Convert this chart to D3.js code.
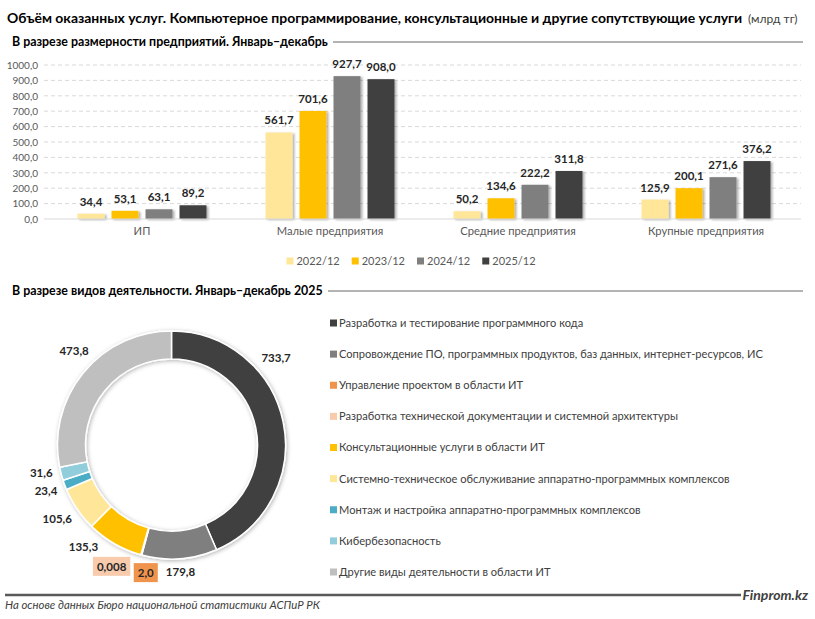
<!DOCTYPE html>
<html><head><meta charset="utf-8">
<script src="https://cdn.jsdelivr.net/npm/d3@7/dist/d3.min.js"></script>
<style>
html,body{margin:0;padding:0;background:#fff;}
svg{display:block;}
.body{font-family:Lato,"Open Sans",sans-serif;}
</style></head>
<body>
<svg id="chart" width="815" height="619"></svg>
<script>
// ---------- DATA ----------
const categories = ["ИП", "Малые предприятия", "Средние предприятия", "Крупные предприятия"];
const seriesNames = ["2022/12", "2023/12", "2024/12", "2025/12"];
const values2022 = [34.4, 561.7, 50.2, 125.9];
const values2023 = [53.1, 701.6, 134.6, 200.1];
const values2024 = [63.1, 927.7, 222.2, 271.6];
const values2025 = [89.2, 908.0, 311.8, 376.2];
const yTicks = [0, 100, 200, 300, 400, 500, 600, 700, 800, 900, 1000];

const activities = [
  "Разработка и тестирование программного кода",
  "Сопровождение ПО, программных продуктов, баз данных, интернет-ресурсов, ИС",
  "Управление проектом в области ИТ",
  "Разработка технической документации и системной архитектуры",
  "Консультационные услуги в области ИТ",
  "Системно-техническое обслуживание аппаратно-программных комплексов",
  "Монтаж и настройка аппаратно-программных комплексов",
  "Кибербезопасность",
  "Другие виды деятельности в области ИТ"
];
const activityValues = [733.7, 179.8, 2.0, 0.008, 135.3, 105.6, 23.4, 31.6, 473.8];

// ---------- STYLE ----------
const seriesColors = ["#FFE699", "#FFC000", "#7F7F7F", "#404040"];
const activityColors = ["#404040", "#7F7F7F", "#F0934C", "#F8CBAD", "#FFC000", "#FFE699", "#4BACC6", "#92CDDC", "#BFBFBF"];
const boxedLabels = [false, false, true, true, false, false, false, false, false];
// angular nudges (degrees) for donut labels, mimicking the original label placement
const labelNudge = [-28, 0, -4, 10.6, 10.8, 1.2, 0.5, 2.4, 4.6];

const fmt1 = d3.format(".1f");
const fmtNum = v => (v < 0.1 ? d3.format(".3f")(v) : fmt1(v)).replace(".", ",");

const svg = d3.select("#chart");
const defs = svg.append("defs");
const sh = defs.append("filter").attr("id", "shadow").attr("x", "-20%").attr("y", "-20%").attr("width", "150%").attr("height", "150%");
sh.append("feDropShadow").attr("dx", 2).attr("dy", 1).attr("stdDeviation", 1.3).attr("flood-color", "#000").attr("flood-opacity", 0.3);
const sh2 = defs.append("filter").attr("id", "dshadow").attr("x", "-20%").attr("y", "-20%").attr("width", "140%").attr("height", "140%");
sh2.append("feDropShadow").attr("dx", 1).attr("dy", 1).attr("stdDeviation", 2).attr("flood-color", "#000").attr("flood-opacity", 0.3);

// ---------- TITLE ----------
// fit a text element to a target width by adjusting its font-size
function fitWidth(sel, target) {
  const fs = +sel.attr("font-size");
  const w = sel.node().getComputedTextLength();
  sel.attr("font-size", (fs * target / w).toFixed(2));
}
const t1 = svg.append("text").attr("class", "body").attr("x", 7).attr("y", 23)
  .attr("font-size", 14).attr("font-weight", "bold").attr("fill", "#000")
  .text("Объём оказанных услуг. Компьютерное программирование, консультационные и другие сопутствующие услуги");
fitWidth(t1, 736);
svg.append("text").attr("class", "body").attr("x", 748).attr("y", 23)
  .attr("font-size", 12).attr("fill", "#404040").text("(млрд тг)");

function sectionHeader(txt, y, w) {
  const t = svg.append("text").attr("class", "body").attr("x", 12).attr("y", y)
    .attr("font-size", 12).attr("font-weight", "bold").attr("fill", "#000").text(txt);
  fitWidth(t, w);
  svg.append("line").attr("x1", 12 + w + 5).attr("x2", 803).attr("y1", y - 4).attr("y2", y - 4)
    .attr("stroke", "#404040").attr("stroke-width", 0.8);
}
sectionHeader("В разрезе размерности предприятий. Январь–декабрь", 46, 316);
sectionHeader("В разрезе видов деятельности. Январь–декабрь 2025", 295, 311);

// ---------- BAR CHART ----------
const x0 = d3.scaleBand().domain(categories).range([48, 800]).padding(0);
const x1 = d3.scaleBand().domain(seriesNames).range([-68, 68]).paddingInner(0.206).paddingOuter(0.103);
const y = d3.scaleLinear().domain([0, 1000]).range([219, 65]);
const allSeries = [values2022, values2023, values2024, values2025];

const grid = svg.append("g");
grid.selectAll("line").data(yTicks.filter(d => d > 0)).join("line")
  .attr("x1", 44).attr("x2", 801).attr("y1", d => y(d)).attr("y2", d => y(d))
  .attr("stroke", "#D9D9D9").attr("stroke-width", 1).attr("stroke-dasharray", "4,3");

const yAxis = d3.axisLeft(y).tickValues(yTicks).tickSize(0).tickPadding(0).tickFormat(d => fmt1(d).replace(".", ","));
const ya = svg.append("g").attr("transform", "translate(38,0)").call(yAxis);
ya.select(".domain").remove();
ya.selectAll("text").attr("class", "body").attr("font-size", 10).attr("fill", "#595959");

const barsG = svg.append("g");
seriesNames.forEach((s, si) => {
  const vals = allSeries[si];
  barsG.append("g").attr("filter", "url(#shadow)").selectAll("rect").data(vals).join("rect")
    .attr("x", (d, i) => x0(categories[i]) + x0.bandwidth() / 2 + x1(s))
    .attr("y", d => y(d))
    .attr("width", x1.bandwidth())
    .attr("height", d => y(0) - y(d))
    .attr("fill", seriesColors[si]);
  barsG.append("g").selectAll("text").data(vals).join("text")
    .attr("class", "body")
    .attr("x", (d, i) => x0(categories[i]) + x0.bandwidth() / 2 + x1(s) + x1.bandwidth() / 2)
    .attr("y", d => y(d) - 8)
    .attr("text-anchor", "middle").attr("font-size", 11.5).attr("font-weight", "bold").attr("fill", "#262626")
    .text(d => fmtNum(d));
});
svg.append("line").attr("x1", 44).attr("x2", 801).attr("y1", y(0)).attr("y2", y(0))
  .attr("stroke", "#D9D9D9").attr("stroke-width", 1);

const xAxis = d3.axisBottom(x0).tickSize(0).tickPadding(0);
const xa = svg.append("g").attr("transform", `translate(0,${y(0) + 8})`).call(xAxis);
xa.select(".domain").remove();
xa.selectAll("text").attr("class", "body").attr("font-size", 11.2).attr("fill", "#595959").attr("dy", "0.71em");

// bar legend
const leg = svg.append("g").attr("class", "body");
const legItems = [];
seriesNames.forEach((s, i) => {
  const g = leg.append("g");
  g.append("rect").attr("x", 0).attr("y", -7.5).attr("width", 7).attr("height", 7).attr("fill", seriesColors[i]);
  const t = g.append("text").attr("x", 10).attr("y", 0).attr("font-size", 11).attr("fill", "#595959").text(s);
  legItems.push({g, w: 10 + t.node().getComputedTextLength()});
});
const legGap = 12;
const legTotal = d3.sum(legItems, d => d.w) + legGap * (legItems.length - 1);
let lx = 411 - legTotal / 2;
legItems.forEach(it => { it.g.attr("transform", `translate(${lx},265)`); lx += it.w + legGap; });

// ---------- DONUT ----------
const cx = 171.5, cy = 445, R = 114, r = 86;
const pie = d3.pie().sort(null).value(d => d)(activityValues);
const arc = d3.arc().innerRadius(r).outerRadius(R);
const dg = svg.append("g").attr("transform", `translate(${cx},${cy})`);
dg.append("g").attr("filter", "url(#dshadow)").selectAll("path").data(pie).join("path")
  .attr("d", arc).attr("fill", (d, i) => activityColors[i])
  .attr("stroke", "#fff").attr("stroke-width", 1.5).attr("stroke-linejoin", "round");

const lg = dg.append("g").attr("class", "body");
pie.forEach((p, i) => {
  const mid = (p.startAngle + p.endAngle) / 2 + labelNudge[i] * Math.PI / 180;
  const g = lg.append("g");
  const t = g.append("text").attr("font-size", 11.5).attr("font-weight", "bold").attr("fill", "#262626")
    .attr("text-anchor", "middle").attr("dy", "0.35em").text(fmtNum(activityValues[i]));
  let w = t.node().getComputedTextLength(), h = 11;
  if (boxedLabels[i]) {
    const pw = w + 8, ph = 19;
    g.insert("rect", "text").attr("x", -pw / 2).attr("y", -ph / 2 - 0.5).attr("width", pw).attr("height", ph)
      .attr("fill", activityColors[i]);
    w = pw; h = ph;
  }
  const sx = Math.sin(mid), sy = -Math.cos(mid);
  const ext = Math.abs(sx) * w / 2 + Math.abs(sy) * h / 2;
  const dist = R + (boxedLabels[i] ? 5 : 7) + ext;
  g.attr("transform", `translate(${sx * dist},${sy * dist})`);
});

// donut legend
const ly = d3.scalePoint().domain(activities).range([323, 572]);
const dl = svg.append("g").attr("class", "body");
activities.forEach((a, i) => {
  dl.append("rect").attr("x", 330).attr("y", ly(a) - 3.5).attr("width", 7).attr("height", 7).attr("fill", activityColors[i]);
  dl.append("text").attr("x", 339).attr("y", ly(a)).attr("dy", "0.35em").attr("font-size", 11.1).attr("fill", "#404040").text(a);
});

// ---------- FOOTER ----------
svg.append("line").attr("x1", 5).attr("x2", 741).attr("y1", 595).attr("y2", 595).attr("stroke", "#595959").attr("stroke-width", 2.5);
svg.append("text").attr("class", "body").attr("x", 808).attr("y", 600).attr("text-anchor", "end")
  .attr("font-size", 14).attr("font-weight", "bold").attr("font-style", "italic").attr("fill", "#404040").text("Finprom.kz");
svg.append("text").attr("class", "body").attr("x", 5).attr("y", 609)
  .attr("font-size", 11.4).attr("font-style", "italic").attr("fill", "#404040").text("На основе данных Бюро национальной статистики АСПиР РК");
</script>
</body></html>
